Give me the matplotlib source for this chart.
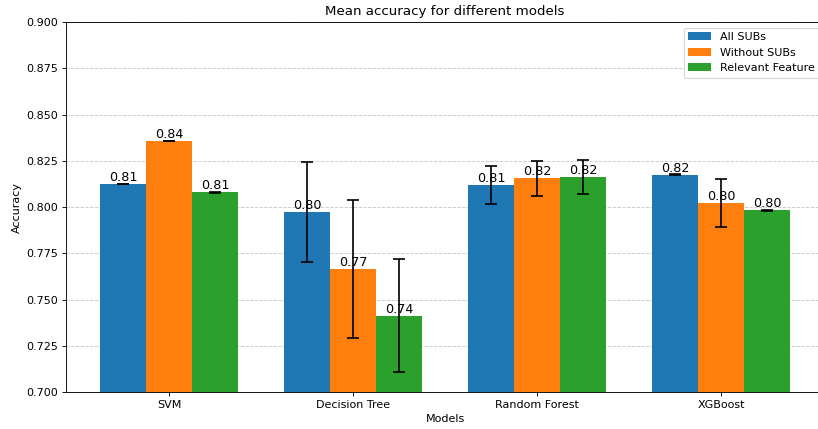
import numpy as np
import matplotlib
matplotlib.use('Agg')
import matplotlib.pyplot as plt

# mean accuracy per model and feature set
models = ['SVM', 'Decision Tree', 'Random Forest', 'XGBoost']
series_names = ['All SUBs', 'Without SUBs', 'Relevant Feature']

all_subs = [0.8124, 0.7971, 0.8119, 0.8175]
without_subs = [0.8357, 0.7665, 0.8155, 0.8022]
relevant_feature = [0.8079, 0.7413, 0.8162, 0.7982]

all_subs_err = [0.0002, 0.0270, 0.0105, 0.0002]
without_subs_err = [0.0002, 0.0374, 0.0095, 0.0128]
relevant_feature_err = [0.0002, 0.0307, 0.0092, 0.0002]

means = [all_subs, without_subs, relevant_feature]
errors = [all_subs_err, without_subs_err, relevant_feature_err]

dpi = 80
fig = plt.figure(figsize=(818 / dpi, 429 / dpi), dpi=dpi)
# original figure was cropped on the right, so the axes run past the edge
ax = fig.add_axes([0.0803, 0.0862, 0.9276, 0.8625])

x = np.arange(len(models))
width = 0.25

for i, (name, vals, errs) in enumerate(zip(series_names, means, errors)):
    bars = ax.bar(x + (i - 1) * width, vals, width, yerr=errs, capsize=5,
                  label=name, error_kw={'elinewidth': 1.5, 'capthick': 1.5})
    for bar, v in zip(bars, vals):
        ax.text(bar.get_x() + bar.get_width() / 2, v, f'{v:.2f}',
                ha='center', va='bottom', fontsize=11.5)

ax.set_xticks(x)
ax.set_xticklabels(models)
ax.set_ylim(0.7, 0.9)
ax.set_xlabel('Models')
ax.set_ylabel('Accuracy')
ax.set_title('Mean accuracy for different models')
ax.grid(axis='y', linestyle='--', alpha=0.7)
ax.set_axisbelow(True)
ax.spines['right'].set_visible(False)
ax.legend(loc='upper right')

fig.savefig('out.png', dpi=dpi)
